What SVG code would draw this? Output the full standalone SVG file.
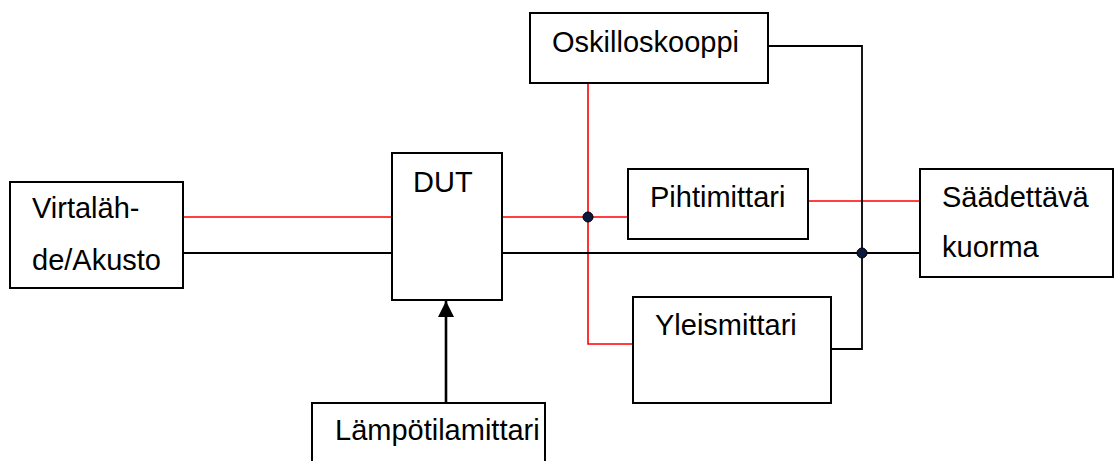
<svg xmlns="http://www.w3.org/2000/svg" width="1114" height="461" viewBox="0 0 1114 461">
  <style>
    .box { fill: #ffffff; stroke: #000000; stroke-width: 2; }
    .lbl { font-family: "Liberation Sans", Arial, sans-serif; font-size: 29px; fill: #000000; }
    .red { fill: none; stroke: #ff0000; stroke-width: 1.6; }
    .blk { fill: none; stroke: #000000; stroke-width: 1.8; }
    .dot { fill: #0b1a40; stroke: #000000; stroke-width: 1; }
  </style>
  <defs>
    <marker id="arrowhead" markerWidth="16" markerHeight="16" refX="16" refY="8" orient="auto" markerUnits="userSpaceOnUse">
      <path d="M0,0 L16,8 L0,16 Z" fill="#000000"/>
    </marker>
  </defs>

  <!-- wiring -->
  <g id="connectors">
    <!-- source to DUT -->
    <line class="red" x1="183" y1="217" x2="392" y2="217"/>
    <line class="blk" x1="183" y1="253" x2="392" y2="253"/>
    <!-- DUT positive to clamp meter -->
    <line class="red" x1="502" y1="217" x2="628" y2="217"/>
    <!-- probe tap down from oscilloscope to multimeter -->
    <polyline class="red" points="588,83 588,344 633,344"/>
    <!-- clamp meter to load -->
    <line class="red" x1="808" y1="201" x2="920" y2="201"/>
    <!-- DUT negative to load -->
    <line class="blk" x1="502" y1="253" x2="920" y2="253"/>
    <!-- ground return from oscilloscope and multimeter -->
    <polyline class="blk" points="768,46 862,46 862,349 831,349"/>
    <!-- temperature sensor to DUT -->
    <line x1="446" y1="403" x2="446" y2="301" stroke="#000000" stroke-width="2.6" marker-end="url(#arrowhead)"/>
    <circle class="dot" cx="588" cy="217" r="5"/>
    <circle class="dot" cx="862" cy="253" r="5"/>
  </g>

  <g id="virtalahde">
    <rect class="box" x="10" y="182" width="173" height="106"/>
    <text class="lbl" x="32" y="218">Virtaläh-</text>
    <text class="lbl" x="32" y="270">de/Akusto</text>
  </g>

  <g id="dut">
    <rect class="box" x="392" y="153" width="110" height="147"/>
    <text class="lbl" x="413" y="192">DUT</text>
  </g>

  <g id="oskilloskooppi">
    <rect class="box" x="530" y="13" width="238" height="70"/>
    <text class="lbl" x="552" y="52">Oskilloskooppi</text>
  </g>

  <g id="pihtimittari">
    <rect class="box" x="628" y="169" width="180" height="70"/>
    <text class="lbl" x="650" y="207">Pihtimittari</text>
  </g>

  <g id="yleismittari">
    <rect class="box" x="633" y="297" width="198" height="106"/>
    <text class="lbl" x="655" y="335">Yleismittari</text>
  </g>

  <g id="saadettava-kuorma">
    <rect class="box" x="920" y="169" width="193" height="108"/>
    <text class="lbl" x="942" y="207">Säädettävä</text>
    <text class="lbl" x="942" y="257">kuorma</text>
  </g>

  <g id="lampotilamittari">
    <rect class="box" x="312" y="403" width="233" height="70"/>
    <text class="lbl" x="335" y="440">Lämpötilamittari</text>
  </g>
</svg>
